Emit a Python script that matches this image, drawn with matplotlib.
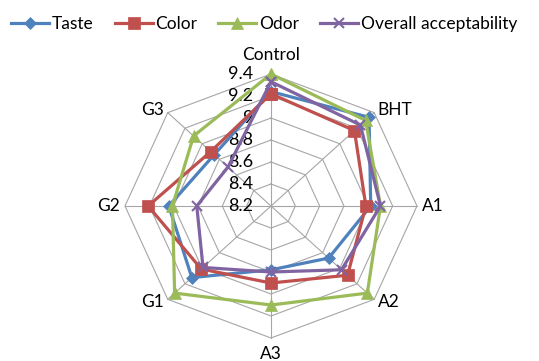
import numpy as np
import matplotlib
matplotlib.use("Agg")
import matplotlib.pyplot as plt

plt.rcParams['font.family'] = ['Lato', 'DejaVu Sans']

categories = ['Control', 'BHT', 'A1', 'A2', 'A3', 'G1', 'G2', 'G3']
taste = [9.24, 9.34, 9.02, 8.87, 8.78, 9.12, 9.04, 8.86]
color = [9.22, 9.17, 8.98, 9.09, 8.90, 9.01, 9.21, 8.90]
odor = [9.40, 9.30, 9.10, 9.32, 9.10, 9.32, 9.01, 9.10]
overall = [9.33, 9.24, 9.10, 9.02, 8.80, 8.99, 8.81, 8.70]
levels = [8.2, 8.4, 8.6, 8.8, 9.0, 9.2, 9.4]
level_labels = ['8.2', '8.4', '8.6', '8.8', '9', '9.2', '9.4']

n = len(categories)
angles = np.linspace(0, 2 * np.pi, n, endpoint=False)
closed = np.append(angles, angles[0])

fig = plt.figure(figsize=(5.39, 3.61), dpi=100)
ax = fig.add_axes([0.2319, 0.0637, 0.5417, 0.7313], projection='polar')
ax.set_aspect('auto')
ax.set_theta_zero_location('N')
ax.set_theta_direction(-1)
ax.set_ylim(levels[0], levels[-1])
ax.set_xticks([])
ax.set_yticks([])
ax.grid(False)
ax.spines['polar'].set_visible(False)

# octagon grid and spokes
grid_col = '#A6A6A6'
for lv in levels[1:]:
    ax.plot(closed, [lv] * (n + 1), color=grid_col, lw=0.8, zorder=1, clip_on=False)
for a in angles:
    ax.plot([a, a], [levels[0], levels[-1]], color=grid_col, lw=0.8, zorder=1, clip_on=False)

for lv, lab in zip(levels, level_labels):
    ax.annotate(lab, (0, lv), xytext=(-12.5, 0), textcoords='offset points',
                ha='right', va='center', fontsize=13, color='#000000', zorder=2)

series = [
    ('Taste', taste, '#4F81BD', 'D', 6),
    ('Color', color, '#C0504D', 's', 8.5),
    ('Odor', odor, '#9BBB59', '^', 9),
    ('Overall acceptability', overall, '#8064A2', 'x', 7),
]
for name, vals, c, m, ms in series:
    v = list(vals) + [vals[0]]
    ax.plot(closed, v, color=c, lw=2.3, marker=m, markersize=ms,
            markeredgewidth=1.5 if m == 'x' else 0.5, markeredgecolor=c,
            label=name, zorder=3, clip_on=False)

# category labels
fs = 12.5
for a, cat in zip(angles, categories):
    deg = np.degrees(a)
    if cat == 'Control':
        ax.text(a, 9.5, cat, ha='center', va='bottom', fontsize=fs)
    elif cat == 'A3':
        ax.text(a, 9.47, cat, ha='center', va='top', fontsize=fs)
    elif deg < 180:
        ax.text(a, 9.44, cat, ha='left', va='center', fontsize=fs)
    else:
        ax.text(a, 9.44, cat, ha='right', va='center', fontsize=fs)

fig.legend(loc='upper center', bbox_to_anchor=(0.49, 1.0), ncol=4, frameon=False,
           fontsize=12.5, handlelength=2.2, columnspacing=1.2, handletextpad=0.15)

fig.savefig('out.png', dpi=100)
